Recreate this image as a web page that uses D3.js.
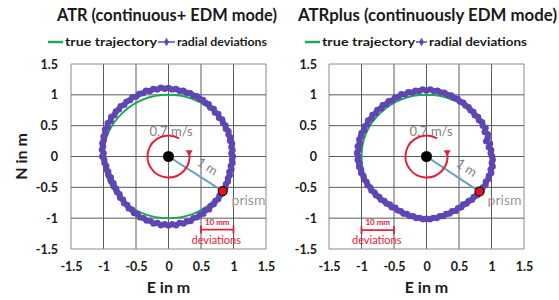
<!DOCTYPE html>
<html><head><meta charset="utf-8">
<script src="https://cdn.jsdelivr.net/npm/d3@7"></script>
<style>body{margin:0;background:#fff}svg{display:block}</style>
</head><body><svg id="c" width="559" height="300"></svg>
<script>
// ---------------- data ----------------
const titles = ["ATR (continuous+ EDM mode)", "ATRplus (continuously EDM mode)"];
const legendLabels = ["true trajectory", "radial deviations"];
const tickValues = [-1.5, -1, -0.5, 0, 0.5, 1, 1.5];
const tickLabels = ["-1.5", "-1", "-0.5", "0", "0.5", "1", "1.5"];
const xAxisTitle = "E in m";
const yAxisTitle = "N in m";

// sample angle (degrees, counter-clockwise from East)
const angleDeg = [0,3,6,9,12,15,18,21,24,27,30,33,36,39,42,45,48,51,54,57,
  60,63,66,69,72,75,78,81,84,87,90,93,96,99,102,105,108,111,114,117,
  120,123,126,129,132,135,138,141,144,147,150,153,156,159,162,165,168,171,174,177,
  180,183,186,189,192,195,198,201,204,207,210,213,216,219,222,225,228,231,234,237,
  240,243,246,249,252,255,258,261,264,267,270,273,276,279,282,285,288,291,294,297,
  300,303,306,309,312,315,318,321,324,327,330,333,336,339,342,345,348,351,354,357];

// plotted radius (m) of the measured points incl. exaggerated radial deviations
const radiusATR = [0.99,0.97,0.99,0.98,1.00,0.98,1.00,0.99,1.01,0.99,
  1.01,1.00,1.02,1.00,1.03,1.01,1.04,1.02,1.05,1.04,
  1.06,1.05,1.07,1.06,1.08,1.07,1.09,1.08,1.10,1.09,
  1.11,1.10,1.12,1.10,1.12,1.10,1.12,1.10,1.11,1.09,
  1.11,1.09,1.10,1.08,1.10,1.08,1.09,1.07,1.09,1.06,
  1.08,1.05,1.07,1.04,1.05,1.03,1.04,1.02,1.03,1.00,
  1.02,0.99,0.99,0.97,0.98,0.96,0.97,0.95,0.97,0.95,
  0.97,0.96,0.98,0.97,1.00,0.99,1.02,1.01,1.04,1.03,
  1.06,1.05,1.08,1.07,1.09,1.08,1.11,1.09,1.12,1.10,
  1.12,1.10,1.12,1.09,1.11,1.09,1.10,1.07,1.08,1.06,
  1.07,1.04,1.06,1.03,1.04,1.02,1.03,1.01,1.02,1.00,
  1.01,0.99,1.00,0.98,0.99,0.97,0.99,0.97,0.99,0.98];

const radiusATRplus = [1.01,0.99,1.00,0.97,1.00,0.95,0.99,1.01,0.98,1.02,
  1.00,1.02,1.00,1.02,1.00,1.02,1.01,1.03,1.02,1.04,
  1.03,1.05,1.04,1.06,1.05,1.07,1.06,1.08,1.07,1.09,
  1.07,1.09,1.07,1.08,1.06,1.08,1.06,1.08,1.06,1.07,
  1.05,1.07,1.05,1.07,1.05,1.07,1.05,1.07,1.05,1.07,
  1.05,1.07,1.05,1.07,1.06,1.07,1.05,1.07,1.05,1.07,
  1.05,1.06,1.04,1.05,1.03,1.04,1.02,1.03,1.01,1.02,
  1.00,1.01,0.99,1.00,0.98,0.99,0.97,0.98,0.96,0.98,
  0.96,0.98,0.97,0.99,0.98,1.00,0.99,1.01,1.00,1.02,
  1.01,1.02,1.00,1.01,0.99,1.00,0.98,0.99,0.97,0.99,
  0.97,0.98,0.96,0.98,0.97,0.99,0.98,1.00,0.99,1.01,
  1.00,1.02,1.00,1.02,1.01,1.03,1.01,1.03,1.01,1.02];

const trueRadius = 1;                 // true circular trajectory, m
const prismATR = [0.835, -0.56];      // prism position E, N
const prismATRplus = [0.815, -0.57];
const scaleBarATR = [0.5, 1.0];       // 10 mm deviation bar (E from..to)
const scaleBarATRplus = [-1.0, -0.5];
const speedLabel = "0.7 m/s";
const radiusLabel = "1 m";
const prismLabel = "prism";
const scaleLabel = "10 mm";
const scaleNote = "deviations";

// ---------------- layout ----------------
const COL = {grid:"#5a5a5a", border:"#8a8a8a", green:"#1aa85a", purple:"#5f46b2",
             red:"#e5203a", gray:"#808080", radLine:"#6a9fb8", text:"#1a1a1a"};
const FONT = "Lato, 'Open Sans', sans-serif";

const panels = [
  {title:titles[0], radii:radiusATR, prism:prismATR, bar:scaleBarATR,
   x0:71, x1:266, titleX:57, titleW:220,
   leg:{g0:48,g1:63,t1:65,w1:92,p0:158,p1:175,t2:177,w2:90},
   yLabX:58, showYTitle:true,
   speedPos:[0.04,0.33], radPos:[0.6,-0.16], prismTxt:[0.97,-0.78], barY:-1.185},
  {title:titles[1], radii:radiusATRplus, prism:prismATRplus, bar:scaleBarATRplus,
   x0:329, x1:524, titleX:298, titleW:259,
   leg:{g0:305,g1:320,t1:322,w1:93,p0:416,p1:427,t2:429,w2:98},
   yLabX:317, showYTitle:false,
   speedPos:[0.07,0.33], radPos:[0.62,-0.18], prismTxt:[0.94,-0.78], barY:-1.195}
];

const svg = d3.select("#c").style("font-family", FONT);
svg.append("rect").attr("width",559).attr("height",300).attr("fill","#fff");

panels.forEach(p => {
  const x = d3.scaleLinear().domain([-1.5,1.5]).range([p.x0,p.x1]);
  const y = d3.scaleLinear().domain([-1.5,1.5]).range([249,64]);
  const g = svg.append("g");

  // title
  g.append("text").attr("x",p.titleX).attr("y",21).attr("font-size",16.5)
    .attr("font-weight",700).attr("fill",COL.text)
    .attr("textLength",p.titleW).attr("lengthAdjust","spacingAndGlyphs").text(p.title);

  // legend
  const L = p.leg;
  g.append("line").attr("x1",L.g0).attr("x2",L.g1).attr("y1",42).attr("y2",42)
    .attr("stroke",COL.green).attr("stroke-width",2.5);
  g.append("text").attr("x",L.t1).attr("y",46).attr("font-size",12).attr("font-weight",700)
    .attr("fill",COL.text).attr("textLength",L.w1).attr("lengthAdjust","spacingAndGlyphs").text(legendLabels[0]);
  g.append("line").attr("x1",L.p0).attr("x2",L.p1).attr("y1",42).attr("y2",42)
    .attr("stroke",COL.purple).attr("stroke-width",1.5);
  g.append("path").attr("d",d3.symbol(d3.symbolDiamond,22)())
    .attr("transform",`translate(${(L.p0+L.p1)/2},42)`).attr("fill",COL.purple);
  g.append("text").attr("x",L.t2).attr("y",46).attr("font-size",12).attr("font-weight",700)
    .attr("fill",COL.text).attr("textLength",L.w2).attr("lengthAdjust","spacingAndGlyphs").text(legendLabels[1]);

  // grid
  g.selectAll(".vg").data(tickValues).join("line")
    .attr("x1",d=>x(d)).attr("x2",d=>x(d)).attr("y1",y(1.5)).attr("y2",y(-1.5))
    .attr("stroke",(d,i)=> (i===0||i===tickValues.length-1)?COL.border:COL.grid).attr("stroke-width",1);
  g.selectAll(".hg").data(tickValues).join("line")
    .attr("y1",d=>y(d)).attr("y2",d=>y(d)).attr("x1",x(-1.5)).attr("x2",x(1.5))
    .attr("stroke",(d,i)=> (i===0||i===tickValues.length-1)?COL.border:COL.grid).attr("stroke-width",1);

  // axes tick labels via d3 axes
  const fmt = d => tickLabels[tickValues.indexOf(d)];
  const ax = g.append("g").attr("transform",`translate(0,${y(-1.5)})`)
    .call(d3.axisBottom(x).tickValues(tickValues).tickFormat(fmt).tickSize(0).tickPadding(13));
  const ay = g.append("g").attr("transform",`translate(${p.yLabX},0)`)
    .call(d3.axisLeft(y).tickValues(tickValues).tickFormat(fmt).tickSize(0).tickPadding(0));
  [ax,ay].forEach(a=>{
    a.select(".domain").remove();
    a.selectAll("text").attr("font-family",FONT).attr("font-size",12.5)
      .attr("font-weight",700).attr("fill",COL.text);
  });

  // axis titles
  g.append("text").attr("x",x(0)).attr("y",293).attr("text-anchor","middle")
    .attr("font-size",16).attr("font-weight",700).attr("fill",COL.text).text(xAxisTitle);
  if (p.showYTitle) {
    g.append("text").attr("transform",`translate(27,${y(0)}) rotate(-90)`).attr("text-anchor","middle")
      .attr("font-size",16).attr("font-weight",700).attr("fill",COL.text).text(yAxisTitle);
  }

  // true trajectory
  g.append("ellipse").attr("cx",x(0)).attr("cy",y(0))
    .attr("rx",x(trueRadius)-x(0)).attr("ry",y(0)-y(trueRadius))
    .attr("fill","none").attr("stroke",COL.green).attr("stroke-width",2);

  // measured points
  const pts = angleDeg.map((a,i)=>{
    const t = a*Math.PI/180;
    return [p.radii[i]*Math.cos(t), p.radii[i]*Math.sin(t)];
  });
  g.append("path").datum(pts)
    .attr("d",d3.line().x(d=>x(d[0])).y(d=>y(d[1])).curve(d3.curveLinearClosed))
    .attr("fill","none").attr("stroke",COL.purple).attr("stroke-width",3);
  g.selectAll(".pt").data(pts).join("circle")
    .attr("cx",d=>x(d[0])).attr("cy",d=>y(d[1])).attr("r",3.2).attr("fill",COL.purple);

  // radius line to prism
  g.append("line").attr("x1",x(0)).attr("y1",y(0)).attr("x2",x(p.prism[0])).attr("y2",y(p.prism[1]))
    .attr("stroke",COL.radLine).attr("stroke-width",2);

  // rotation arrow
  const cx = x(0), cy = y(0), rr = 21;
  const arcP = d3.path();
  const a0 = -60*Math.PI/180, a1 = -370*Math.PI/180;
  arcP.moveTo(cx+rr*Math.cos(a0), cy+rr*Math.sin(a0));
  arcP.arc(cx,cy,rr,a0,a1,true);
  g.append("path").attr("d",arcP.toString()).attr("fill","none")
    .attr("stroke",COL.red).attr("stroke-width",2);
  const ex = cx+rr*Math.cos(a1), ey = cy+rr*Math.sin(a1);
  g.append("path").attr("d",`M${ex-3.5},${ey-2.5}L${ex+3.5},${ey-2.5}L${ex},${ey+3.5}Z`).attr("fill",COL.red);

  // center
  g.append("circle").attr("cx",cx).attr("cy",cy).attr("r",5.5).attr("fill","#000");

  // prism
  g.append("circle").attr("cx",x(p.prism[0])).attr("cy",y(p.prism[1])).attr("r",4.5)
    .attr("fill","#e8101e").attr("stroke","#111").attr("stroke-width",1.2);

  // annotation texts
  g.append("text").attr("x",x(p.speedPos[0])).attr("y",y(p.speedPos[1])).attr("text-anchor","middle")
    .attr("font-size",13).attr("fill",COL.gray).text(speedLabel);
  const ang = Math.atan2(y(p.prism[1])-cy, x(p.prism[0])-cx)*180/Math.PI;
  g.append("text").attr("transform",`translate(${x(p.radPos[0])},${y(p.radPos[1])}) rotate(${ang})`)
    .attr("text-anchor","middle").attr("dy","0.35em")
    .attr("font-size",13).attr("fill",COL.gray).text(radiusLabel);
  g.append("text").attr("x",x(p.prismTxt[0])).attr("y",y(p.prismTxt[1]))
    .attr("font-size",14).attr("fill","#9a9a9a").text(prismLabel);

  // scale bar
  const by = y(p.barY), bx0 = x(p.bar[0]), bx1 = x(p.bar[1]);
  g.append("line").attr("x1",bx0).attr("x2",bx1).attr("y1",by).attr("y2",by).attr("stroke",COL.red).attr("stroke-width",1.8);
  [bx0,bx1].forEach(v=> g.append("line").attr("x1",v).attr("x2",v).attr("y1",by-4).attr("y2",by+4)
    .attr("stroke",COL.red).attr("stroke-width",1.8));
  g.append("text").attr("x",(bx0+bx1)/2).attr("y",by-5).attr("text-anchor","middle")
    .attr("font-size",8).attr("font-weight",700).attr("fill",COL.red).text(scaleLabel);
  g.append("text").attr("x",(bx0+bx1)/2 - 1).attr("y",by+14).attr("text-anchor","middle")
    .attr("font-size",11).attr("fill",COL.red).text(scaleNote);
});
</script></body></html>
